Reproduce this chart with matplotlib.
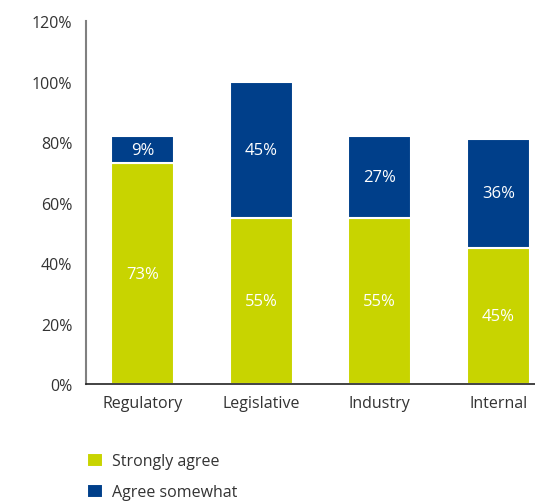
import matplotlib.pyplot as plt
import numpy as np

plt.rcParams['font.family'] = ['Open Sans', 'DejaVu Sans']

categories = ['Regulatory', 'Legislative', 'Industry', 'Internal']
strongly_agree = [73, 55, 55, 45]
agree_somewhat = [9, 45, 27, 36]
yticks = [0, 20, 40, 60, 80, 100, 120]

green = '#c8d400'
blue = '#003f8a'

fig = plt.figure(figsize=(5.35, 5.02), dpi=100)
ax = fig.add_axes([0.161, 0.233, 0.839, 0.723])

x = np.arange(len(categories))
w = 0.53
b1 = ax.bar(x, strongly_agree, width=w, color=green, edgecolor='white', linewidth=1.5, label='Strongly agree')
b2 = ax.bar(x, agree_somewhat, width=w, bottom=strongly_agree, color=blue, edgecolor='white', linewidth=1.5, label='Agree somewhat')

for i in range(len(categories)):
    ax.text(x[i], strongly_agree[i] / 2, f'{strongly_agree[i]}%', ha='center', va='center', color='white', fontsize=12)
    ax.text(x[i], strongly_agree[i] + agree_somewhat[i] / 2, f'{agree_somewhat[i]}%', ha='center', va='center', color='white', fontsize=12)

ax.set_xlim(-0.477, 3.31)
ax.set_ylim(0, 120)
ax.set_yticks(yticks)
ax.set_yticklabels([f'{t}%' for t in yticks])
ax.set_xticks(x)
ax.set_xticklabels(categories)
ax.tick_params(axis='both', length=0, labelsize=11.5, colors='#333333')
ax.tick_params(axis='y', pad=10)
ax.tick_params(axis='x', pad=8)

ax.spines['top'].set_visible(False)
ax.spines['right'].set_visible(False)
ax.spines['left'].set_color('#808080')
ax.spines['left'].set_linewidth(1.5)
ax.spines['bottom'].set_color('#222222')
ax.spines['bottom'].set_linewidth(1.2)

fig.legend(handles=[b1, b2], loc='upper left', bbox_to_anchor=(0.135, 0.125), frameon=False,
           fontsize=11.5, handlelength=1.0, handleheight=1.0, handletextpad=0.6, labelspacing=0.9,
           labelcolor='#333333')

fig.savefig('out.png', dpi=100)
